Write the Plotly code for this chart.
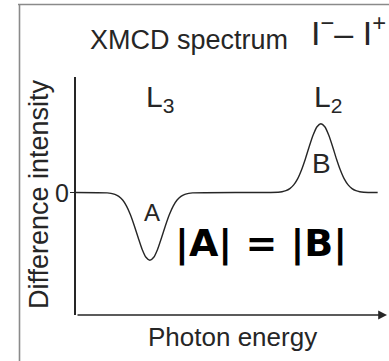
import plotly.graph_objects as go

W, H = 389, 361

# ---- data (arbitrary units) ----
energy_a = [1.0, 1.125, 1.25, 1.375, 1.5, 1.625, 1.75, 1.875, 2.0, 2.125, 2.25, 2.375,
            2.5, 2.625, 2.75, 2.875, 3.0, 3.125, 3.25, 3.375, 3.5, 3.625, 3.75]
diff_a = [-0.003, -0.007, -0.016, -0.033, -0.065, -0.117, -0.192, -0.287, -0.391, -0.490, -0.560, -0.586,
          -0.560, -0.490, -0.391, -0.287, -0.192, -0.117, -0.065, -0.033, -0.016, -0.007, -0.003]
energy_b = [6.5, 6.625, 6.75, 6.875, 7.0, 7.125, 7.25, 7.375, 7.5, 7.625, 7.75, 7.875,
            8.0, 8.125, 8.25, 8.375, 8.5, 8.625, 8.75, 8.875, 9.0, 9.125, 9.25]
diff_b = [0.003, 0.007, 0.016, 0.034, 0.066, 0.118, 0.195, 0.291, 0.398, 0.497, 0.569, 0.595,
          0.569, 0.497, 0.398, 0.291, 0.195, 0.118, 0.066, 0.034, 0.016, 0.007, 0.003]
energy_start, energy_end = 0.0, 9.7
x_range = [0, 10]
y_range = [-1.06, 1.0]
y_tick_vals = [0]
y_tick_text = ["0"]

energy = [energy_start] + energy_a + energy_b + [energy_end]
diff = [0.0] + diff_a + diff_b + [0.0]

INK = "#262626"
FONT = "Liberation Sans, Arial, sans-serif"

def px(x):
    return x / W

def py(y):
    return 1 - y / H

fig = go.Figure()
fig.add_trace(go.Scatter(x=energy, y=diff, mode="lines",
                         line=dict(color=INK, width=1.4, shape="spline", smoothing=0.6),
                         hoverinfo="skip", showlegend=False))

ann = []
# x axis with arrow
ann.append(dict(x=x_range[1], y=y_range[0], ax=x_range[0], ay=y_range[0],
                xref="x", yref="y", axref="x", ayref="y", text="",
                showarrow=True, arrowhead=2, arrowsize=1.1, arrowwidth=1.6, arrowcolor=INK))
# y tick label "0" placed at the zero level
ann.append(dict(x=px(71), y=y_tick_vals[0], xref="paper", yref="y", xanchor="right", yanchor="middle",
                text=y_tick_text[0], showarrow=False, font=dict(family=FONT, size=25, color=INK)))
# titles / labels
ann.append(dict(x=px(88), y=py(40), xref="paper", yref="paper", xanchor="left", yanchor="middle",
                text="XMCD spectrum", showarrow=False, font=dict(family=FONT, size=27, color=INK)))
ann.append(dict(x=px(309), y=py(31), xref="paper", yref="paper", xanchor="left", yanchor="middle",
                text="I<sup>\u2212</sup>\u2013 I<sup>+</sup>", showarrow=False,
                font=dict(family=FONT, size=34, color=INK)))
ann.append(dict(x=px(144), y=py(98), xref="paper", yref="paper", xanchor="left", yanchor="middle",
                text="L<sub>3</sub>", showarrow=False, font=dict(family=FONT, size=30, color=INK)))
ann.append(dict(x=px(312), y=py(98), xref="paper", yref="paper", xanchor="left", yanchor="middle",
                text="L<sub>2</sub>", showarrow=False, font=dict(family=FONT, size=30, color=INK)))
ann.append(dict(x=px(152), y=py(212), xref="paper", yref="paper", xanchor="center", yanchor="middle",
                text="A", showarrow=False, font=dict(family=FONT, size=24, color=INK)))
ann.append(dict(x=px(321), y=py(163), xref="paper", yref="paper", xanchor="center", yanchor="middle",
                text="B", showarrow=False, font=dict(family=FONT, size=28, color=INK)))
ann.append(dict(x=px(232), y=py(337), xref="paper", yref="paper", xanchor="center", yanchor="middle",
                text="Photon energy", showarrow=False, font=dict(family=FONT, size=26, color=INK)))
ann.append(dict(x=px(39), y=py(194), xref="paper", yref="paper", xanchor="center", yanchor="middle",
                text="Difference intensity", textangle=-90, showarrow=False,
                font=dict(family=FONT, size=27, color=INK)))
ann.append(dict(x=px(261), y=py(243), xref="paper", yref="paper", xanchor="center", yanchor="middle",
                text="<b>|A| = |B|</b>", showarrow=False,
                font=dict(family="DejaVu Sans, sans-serif", size=38, color="#000000")))

shapes = [
    dict(type="line", xref="paper", yref="paper", x0=px(18), x1=px(389), y0=py(4.5), y1=py(4.5),
         line=dict(color="#8a8a8a", width=1.6)),
    dict(type="line", xref="paper", yref="paper", x0=px(19.5), x1=px(19.5), y0=py(4), y1=py(361),
         line=dict(color="#8a8a8a", width=1.6)),
]

fig.update_layout(
    width=W, height=H, margin=dict(l=0, r=0, t=0, b=0),
    paper_bgcolor="white", plot_bgcolor="white",
    xaxis=dict(domain=[px(76), px(387)], range=x_range, showline=False, showgrid=False,
               zeroline=False, showticklabels=False, ticks=""),
    yaxis=dict(domain=[py(315), py(77)], range=y_range, showline=True, linecolor=INK, linewidth=1.6,
               showgrid=False, zeroline=False, tickvals=y_tick_vals, showticklabels=False,
               ticks="outside", ticklen=4, tickcolor=INK, tickwidth=1.4),
    annotations=ann, shapes=shapes, showlegend=False,
)

fig.write_html("out.html")
